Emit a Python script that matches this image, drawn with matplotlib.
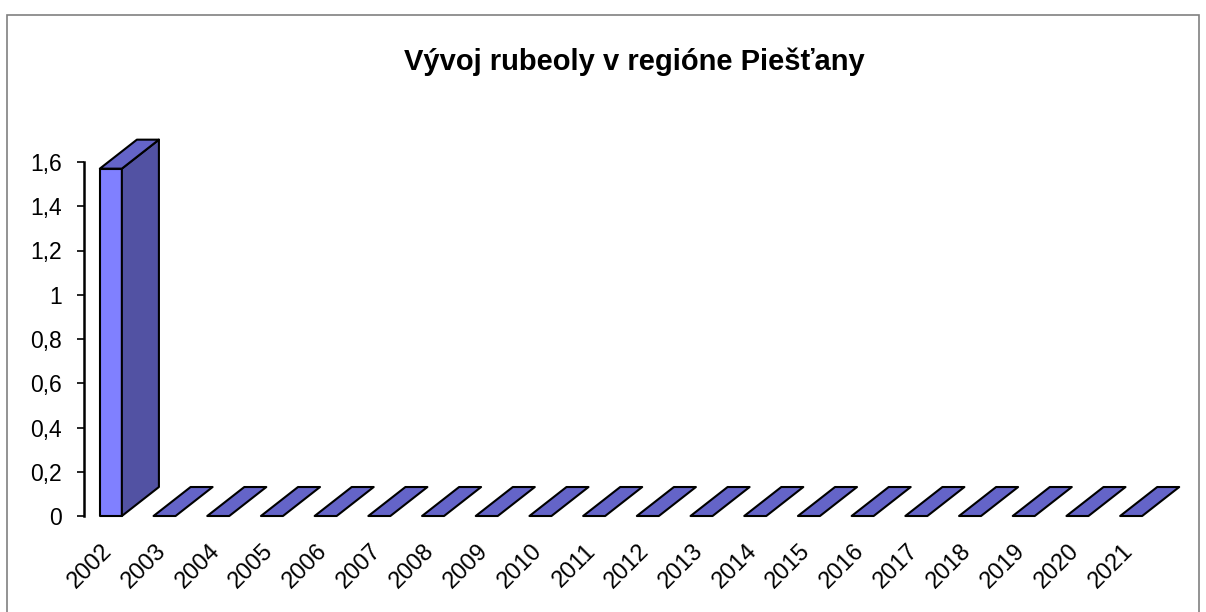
import matplotlib
matplotlib.use("Agg")
import matplotlib.pyplot as plt
from matplotlib.patches import Polygon, Rectangle

plt.rcParams["font.family"] = ["Liberation Sans", "DejaVu Sans"]

years = ["2002", "2003", "2004", "2005", "2006", "2007", "2008", "2009", "2010", "2011",
         "2012", "2013", "2014", "2015", "2016", "2017", "2018", "2019", "2020", "2021"]
values = [1.57, 0, 0, 0, 0, 0, 0, 0, 0, 0, 0, 0, 0, 0, 0, 0, 0, 0, 0, 0]
yticks = [0, 0.2, 0.4, 0.6, 0.8, 1, 1.2, 1.4, 1.6]
ylabels = ["0", "0,2", "0,4", "0,6", "0,8", "1", "1,2", "1,4", "1,6"]

W, H = 1206, 612
fig = plt.figure(figsize=(W / 100, H / 100), dpi=100)
ax = fig.add_axes([84 / W, (H - 516) / H, 1074 / W, (516 - 162) / H])
ax.set_xlim(-0.5, 19.5)
ax.set_ylim(0, 1.6)

front_c = "#8080ff"
side_c = "#5252a3"
top_c = "#6464c8"
w = 0.41     # bar width (data units)
dx = 0.69    # depth offset x
dy = 0.131   # depth offset y

for i, v in enumerate(values):
    x0 = i - w / 2
    x1 = i + w / 2
    kw = dict(edgecolor="black", linewidth=1.5, clip_on=False, joinstyle="round")
    if v > 0:
        ax.add_patch(Polygon([(x0, 0), (x1, 0), (x1, v), (x0, v)], facecolor=front_c, **kw))
        ax.add_patch(Polygon([(x1, 0), (x1 + dx, dy), (x1 + dx, v + dy), (x1, v)],
                             facecolor=side_c, **kw))
    ax.add_patch(Polygon([(x0, v), (x0 + dx, v + dy), (x1 + dx, v + dy), (x1, v)],
                         facecolor=top_c, **kw))

ax.set_yticks(yticks)
ax.set_yticklabels(ylabels, fontsize=16.5)
ax.tick_params(axis="y", length=5, width=1.2, pad=11, direction="out")
ax.set_xticks([i + 0.11 for i in range(len(years))])
ax.set_xticklabels(years, fontsize=17, rotation=45, ha="right", va="top")
ax.tick_params(axis="x", length=0, pad=17)

for s in ["top", "right", "bottom"]:
    ax.spines[s].set_visible(False)
ax.spines["left"].set_linewidth(1.8)
ax.patch.set_visible(False)

fig.text(634 / W, 1 - 62 / H, "Vývoj rubeoly v regióne Piešťany",
         fontsize=21, fontweight="bold", ha="center", va="center")

fig.add_artist(Rectangle((7 / W, -0.02), (1199 - 7) / W, (H - 15) / H + 0.02,
                         transform=fig.transFigure, fill=False,
                         edgecolor="#808080", linewidth=1.2))

fig.savefig("out.png", dpi=100)
